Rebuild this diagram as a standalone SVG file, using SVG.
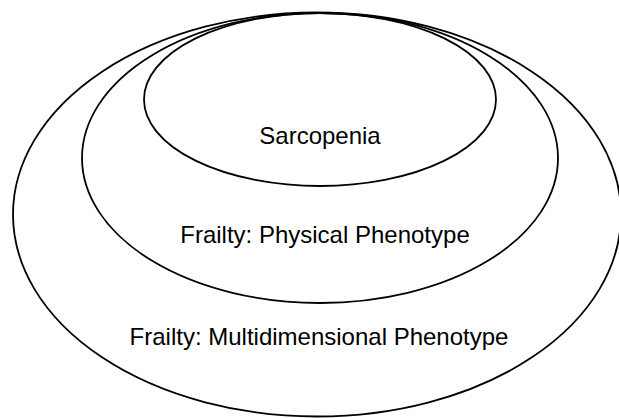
<svg xmlns="http://www.w3.org/2000/svg" width="619" height="418" viewBox="0 0 619 418">
<style>
.ring{fill:none;stroke:#000;stroke-width:1.8}
.lbl{font-family:"Liberation Sans",Arial,sans-serif;font-size:24px;fill:#000;text-anchor:middle}
</style>
<rect width="619" height="418" fill="#fff"/>
<g id="outer">
<ellipse class="ring" cx="317" cy="214.5" rx="304" ry="202"/>
<text class="lbl" x="319" y="345">Frailty: Multidimensional Phenotype</text>
</g>
<g id="middle">
<ellipse class="ring" cx="320" cy="158" rx="238" ry="145"/>
<text class="lbl" x="325" y="243">Frailty: Physical Phenotype</text>
</g>
<g id="inner">
<ellipse class="ring" cx="320" cy="99.5" rx="176" ry="86.5"/>
<text class="lbl" x="320" y="144">Sarcopenia</text>
</g>
<g id="connectors"/>
</svg>
